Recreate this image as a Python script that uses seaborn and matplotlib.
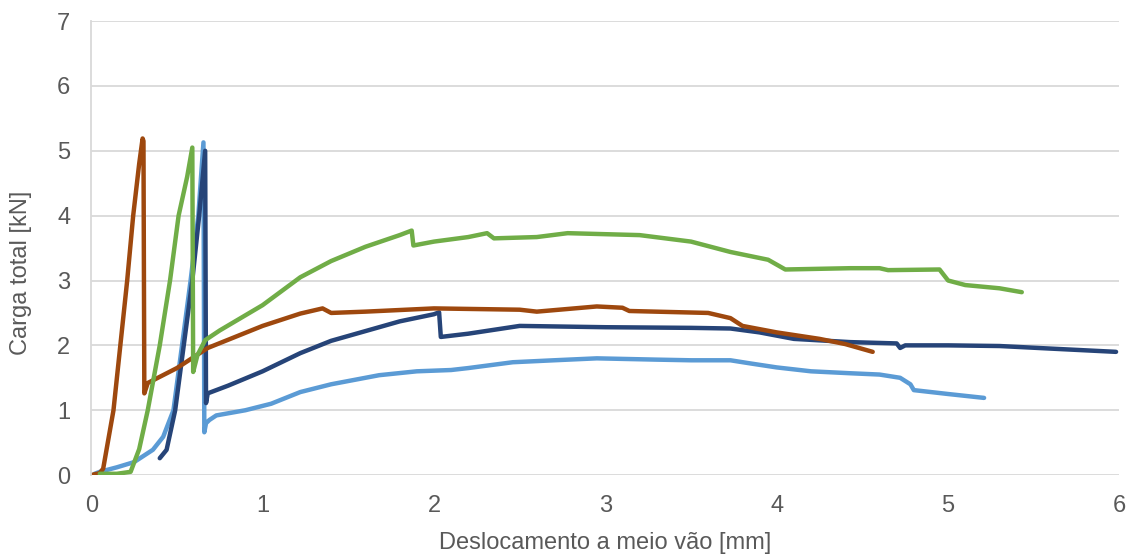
import seaborn as sns
import matplotlib.pyplot as plt
import pandas as pd

# series (x = deslocamento [mm], y = carga [kN])
x_azul_claro = [0.02, 0.05, 0.15, 0.25, 0.36, 0.42, 0.48, 0.53, 0.58, 0.625, 0.655, 0.66,
                0.67, 0.69, 0.73, 0.9, 1.05, 1.22, 1.4, 1.68, 1.9, 2.1, 2.2, 2.46, 2.7, 2.95,
                3.3, 3.5, 3.73, 3.85, 4.0, 4.2, 4.43, 4.6, 4.72, 4.78, 4.8, 5.0, 5.21]
y_azul_claro = [0.02, 0.05, 0.12, 0.2, 0.39, 0.59, 1.0, 2.0, 3.0, 4.0, 5.13, 0.66,
                0.8, 0.85, 0.92, 1.0, 1.1, 1.28, 1.4, 1.54, 1.6, 1.62, 1.65, 1.74, 1.77, 1.8,
                1.78, 1.77, 1.77, 1.72, 1.66, 1.6, 1.57, 1.55, 1.5, 1.4, 1.31, 1.25, 1.19]

x_azul_escuro = [0.40, 0.44, 0.49, 0.54, 0.59, 0.63, 0.665, 0.67, 0.68, 0.8, 1.0, 1.22,
                 1.4, 1.6, 1.8, 2.0, 2.03, 2.04, 2.2, 2.5, 3.0, 3.5, 3.73, 3.9, 4.1,
                 4.43, 4.7, 4.72, 4.75, 5.0, 5.3, 5.6, 5.98]
y_azul_escuro = [0.26, 0.39, 1.0, 2.0, 3.0, 4.0, 5.0, 1.11, 1.26, 1.38, 1.6, 1.88,
                 2.07, 2.22, 2.37, 2.48, 2.51, 2.13, 2.18, 2.3, 2.28, 2.27, 2.26, 2.2, 2.1,
                 2.05, 2.03, 1.96, 2.0, 2.0, 1.99, 1.95, 1.90]

x_laranja = [0.0, 0.05, 0.07, 0.13, 0.17, 0.21, 0.245, 0.28, 0.30, 0.305, 0.31, 0.33,
             0.5, 0.68, 1.0, 1.22, 1.35, 1.4, 1.6, 2.0, 2.5, 2.6, 2.95, 3.1, 3.14,
             3.6, 3.73, 3.8, 4.0, 4.25, 4.4, 4.56]
y_laranja = [0.0, 0.03, 0.1, 1.0, 2.0, 3.0, 4.0, 4.8, 5.19, 5.15, 1.26, 1.42,
             1.65, 1.96, 2.3, 2.49, 2.57, 2.5, 2.52, 2.57, 2.55, 2.52, 2.6, 2.58, 2.53,
             2.5, 2.42, 2.3, 2.2, 2.1, 2.02, 1.90]

x_verde = [0.05, 0.15, 0.23, 0.28, 0.33, 0.40, 0.46, 0.51, 0.56, 0.59, 0.595, 0.62,
           0.665, 0.75, 1.0, 1.22, 1.4, 1.6, 1.8, 1.87, 1.88, 2.0, 2.2, 2.31, 2.35,
           2.6, 2.78, 3.2, 3.5, 3.73, 3.95, 4.05, 4.43, 4.6, 4.65, 4.95, 5.0, 5.1, 5.3, 5.43]
y_verde = [0.02, 0.02, 0.05, 0.4, 1.0, 2.0, 3.0, 4.0, 4.6, 5.05, 1.59, 1.85,
           2.08, 2.23, 2.62, 3.05, 3.3, 3.52, 3.7, 3.77, 3.54, 3.6, 3.67, 3.73, 3.65,
           3.67, 3.73, 3.7, 3.6, 3.44, 3.32, 3.17, 3.19, 3.19, 3.16, 3.17, 3.0, 2.93, 2.88, 2.82]

series = [
    (x_azul_claro, y_azul_claro, '#5B9BD5'),
    (x_azul_escuro, y_azul_escuro, '#264478'),
    (x_laranja, y_laranja, '#9E480E'),
    (x_verde, y_verde, '#70AD47'),
]

sns.set_style('white')
plt.rcParams['font.family'] = ['Liberation Sans', 'DejaVu Sans']

fig = plt.figure(figsize=(11.4, 5.55), dpi=100)
ax = fig.add_axes([0.080, 0.144, 0.902, 0.818])

for xs, ys, cor in series:
    df = pd.DataFrame({'x': xs, 'y': ys})
    sns.lineplot(data=df, x='x', y='y', sort=False, color=cor, lw=3.2,
                 ax=ax, solid_capstyle='round', solid_joinstyle='round')

ax.set_xlim(0, 6)
ax.set_ylim(0, 7)
ax.set_xticks(range(0, 7))
ax.set_yticks(range(0, 8))
ax.yaxis.grid(True, color='#D9D9D9', lw=1.3)
ax.set_axisbelow(True)
for s in ['top', 'right', 'bottom']:
    ax.spines[s].set_visible(False)
ax.spines['left'].set_color('#D9D9D9')
ax.spines['left'].set_linewidth(1.3)
ax.tick_params(axis='x', length=0, labelsize=17, colors='#595959', pad=14)
ax.tick_params(axis='y', length=0, labelsize=17, colors='#595959', pad=15)
ax.set_xlabel('Deslocamento a meio vão [mm]', fontsize=17, color='#595959')
ax.set_ylabel('Carga total [kN]', fontsize=17, color='#595959')
ax.xaxis.set_label_coords(0.5, -0.125)
ax.yaxis.set_label_coords(-0.058, 0.445)

fig.savefig('out.png', dpi=100)
